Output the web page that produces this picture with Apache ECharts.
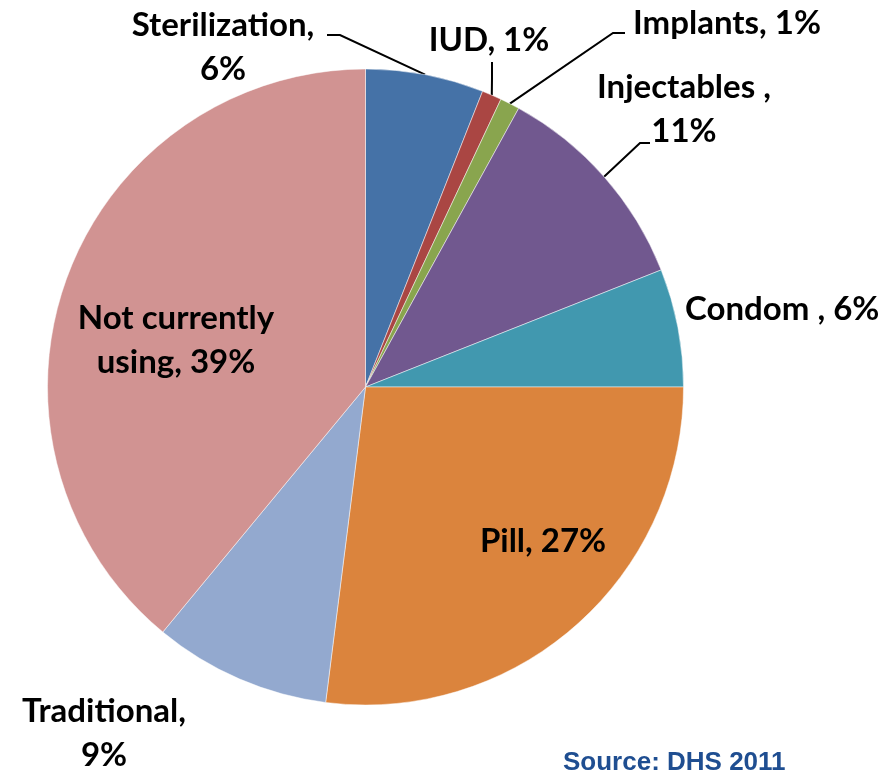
<!DOCTYPE html>
<html>
<head>
<meta charset="utf-8">
<script src="https://cdn.jsdelivr.net/npm/echarts@6/dist/echarts.min.js"></script>
<style>
html,body{margin:0;padding:0;background:#fff;}
#chart{width:889px;height:773px;}
</style>
</head>
<body>
<div id="chart"></div>
<script>
// ---- data ----
const categories = ["Sterilization", "IUD", "Implants", "Injectables", "Condom", "Pill", "Traditional", "Not currently using"];
const values = [6, 1, 1, 11, 6, 27, 9, 39];
const labelTexts = ["Sterilization,\n6%", "IUD, 1%", "Implants, 1%", "Injectables ,\n11%", "Condom , 6%", "Pill, 27%", "Traditional,\n9%", "Not currently\nusing, 39%"];
const sourceText = "Source: DHS 2011";

// ---- styles / layout ----
const colors = ["#4572A7", "#AA4643", "#89A54E", "#71588F", "#4198AF", "#DB843D", "#93A9CF", "#D19392"];
// label anchor [x, y, align]
const labelPos = [
  [223, 47, "center"],
  [489, 40, "center"],
  [727, 23, "center"],
  [684, 109, "center"],
  [685, 309, "left"],
  [543, 541, "center"],
  [104, 733, "center"],
  [176, 340, "center"]
];
// label line bend/end points (start point comes from the pie geometry)
const linePts = {
  0: [[340, 35], [327, 35]],
  1: [[492, 78], [492, 62]],
  2: [[613, 33], [625, 33]],
  3: [[640, 143], [650, 143]]
};

const chart = echarts.init(document.getElementById('chart'), null, {renderer: 'canvas'});
const data = categories.map((c, i) => ({
  name: c,
  value: values[i],
  itemStyle: {color: colors[i]},
  label: {formatter: labelTexts[i]},
  labelLine: {show: linePts[i] !== undefined}
}));

chart.setOption({
  animation: false,
  series: [{
    type: 'pie',
    center: [365.5, 387],
    radius: [0, 318],
    startAngle: 90,
    clockwise: true,
    avoidLabelOverlap: false,
    itemStyle: {borderColor: 'rgba(255,255,255,0.6)', borderWidth: 0.8},
    label: {
      show: true,
      position: 'outside',
      fontFamily: 'Lato',
      fontWeight: 'bold',
      fontSize: 33,
      lineHeight: 44,
      color: '#000'
    },
    labelLine: {show: true, lineStyle: {color: '#000', width: 2}, length: 10, length2: 10},
    labelLayout: function (p) {
      const i = p.dataIndex;
      const lp = labelPos[i];
      const r = {x: lp[0], y: lp[1], align: lp[2], verticalAlign: 'middle'};
      if (linePts[i] && p.labelLinePoints) {
        r.labelLinePoints = [p.labelLinePoints[0], linePts[i][0], linePts[i][1]];
      }
      return r;
    },
    emphasis: {disabled: true},
    data: data
  }],
  graphic: [{
    type: 'text',
    left: 563,
    top: 750,
    style: {text: sourceText, fontFamily: 'Arial, Liberation Sans', fontWeight: 'bold', fontSize: 26, fill: '#1F4E91'}
  }]
});
</script>
</body>
</html>
